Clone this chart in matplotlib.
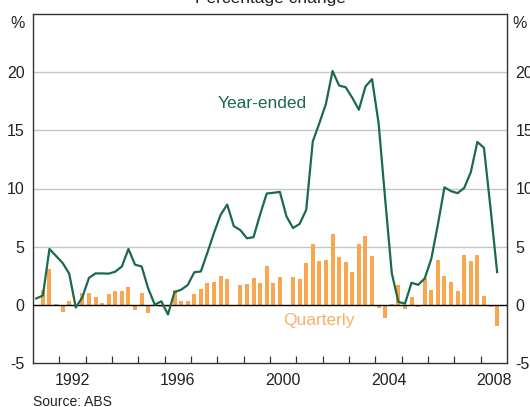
import matplotlib
matplotlib.use('Agg')
import matplotlib.pyplot as plt
import numpy as np
import pandas as pd

plt.rcParams['font.family'] = ['Liberation Sans', 'DejaVu Sans']

# Quarterly data, 1991Q1 to 2008Q3
quarters = pd.period_range('1991Q1', '2008Q3', freq='Q')

quarterly = [
    -0.1, 1.25, 3.05, 0.05, -0.6, 0.3, 0.0, 1.0, 1.0, 0.65,
    0.17, 0.9, 1.17, 1.17, 1.5, -0.43, 1.0, -0.7, 0.05, -0.18,
    -0.18, 1.25, 0.37, 0.3, 0.9, 1.34, 1.85, 1.95, 2.45, 2.2,
    0.0, 1.68, 1.77, 2.28, 1.85, 3.3, 1.85, 2.36, -0.07, 2.36,
    2.2, 3.56, 5.2, 3.74, 3.82, 6.05, 4.08, 3.65, 2.8, 5.2,
    5.88, 4.17, -0.28, -1.12, 0.05, 1.68, -0.35, 0.65, -0.18, 2.28,
    1.28, 3.82, 2.45, 1.94, 1.17, 4.25, 3.74, 4.25, 0.73, -0.15,
    -1.8,
]

year_ended = [
    0.55, 0.8, 4.8, 4.2, 3.6, 2.68, -0.23, 0.65, 2.32, 2.7,
    2.7, 2.68, 2.85, 3.3, 4.8, 3.45, 3.3, 1.4, 0.02, 0.3,
    -0.83, 1.1, 1.3, 1.7, 2.8, 2.87, 4.5, 6.2, 7.74, 8.62,
    6.77, 6.42, 5.72, 5.82, 7.77, 9.57, 9.63, 9.71, 7.6, 6.6,
    6.96, 8.16, 14.05, 15.62, 17.28, 20.1, 18.85, 18.7, 17.8, 16.77,
    18.77, 19.4, 15.6, 9.05, 2.72, 0.25, 0.1, 1.9, 1.72, 2.26,
    3.95, 6.9, 10.1, 9.77, 9.6, 10.05, 11.4, 14.0, 13.5, 8.3,
    2.82,
]

year_labels = [1992, 1996, 2000, 2004, 2008]
y_ticks = [-5, 0, 5, 10, 15, 20]

green = '#1b6a4a'
orange = '#f8a650'

# centre each quarter within its year
x = np.array([q.year + (q.quarter - 0.5) / 4 for q in quarters])

W, H = 530, 407
fig = plt.figure(figsize=(W / 100, H / 100), dpi=100)
ax = fig.add_axes([33 / W, 44 / H, 474 / W, 349 / H])

for v in [5, 10, 15, 20]:
    ax.axhline(v, color='#c4c6c8', lw=1.0, zorder=0)

ax.bar(x, quarterly, width=0.152, color=orange, zorder=2)
ax.axhline(0, color='black', lw=1.0, zorder=3)
ax.plot(x, year_ended, color=green, lw=1.6, zorder=4)

ax.set_xlim(1991, 2009)
ax.set_ylim(-5, 25)

# year boundaries as ticks, labels sitting mid-year
ax.set_xticks(np.arange(1992, 2009))
ax.set_xticklabels([])
ax.set_xticks([y + 0.5 for y in year_labels], minor=True)
ax.set_xticklabels([str(y) for y in year_labels], minor=True)
ax.tick_params(axis='x', which='major', direction='in', length=5,
               width=0.9, color='#333333')
ax.tick_params(axis='x', which='minor', length=0, pad=7, labelsize=11.5,
               labelcolor='#222222')

ax.set_yticks(y_ticks)
ax.set_yticklabels([str(v) for v in y_ticks])
ax.tick_params(axis='y', length=0, pad=6, labelsize=11.5,
               labelcolor='#222222', labelright=True)

for s in ax.spines.values():
    s.set_color('#333333')
    s.set_linewidth(1.0)

# series labels, positioned in figure fractions
fig.text(262.5 / W, 1 - 104 / H, 'Year-ended', color=green, fontsize=12.5,
         ha='center', va='center')
fig.text(319 / W, 1 - 320 / H, 'Quarterly', color='#f8b169', fontsize=12.5,
         ha='center', va='center')

fig.text(18 / W, 1 - 23 / H, '%', fontsize=11.5, ha='center',
         va='center', color='#222222')
fig.text(520 / W, 1 - 23 / H, '%', fontsize=11.5, ha='center',
         va='center', color='#222222')
fig.text(270 / W, 1 - 3 / H, 'Percentage change', fontsize=12.5,
         ha='center', va='baseline', color='#222222')
fig.text(33 / W, 1 - 402 / H, 'Source: ABS', fontsize=10,
         ha='left', va='center', color='#222222')

fig.savefig('out.png', dpi=100)
